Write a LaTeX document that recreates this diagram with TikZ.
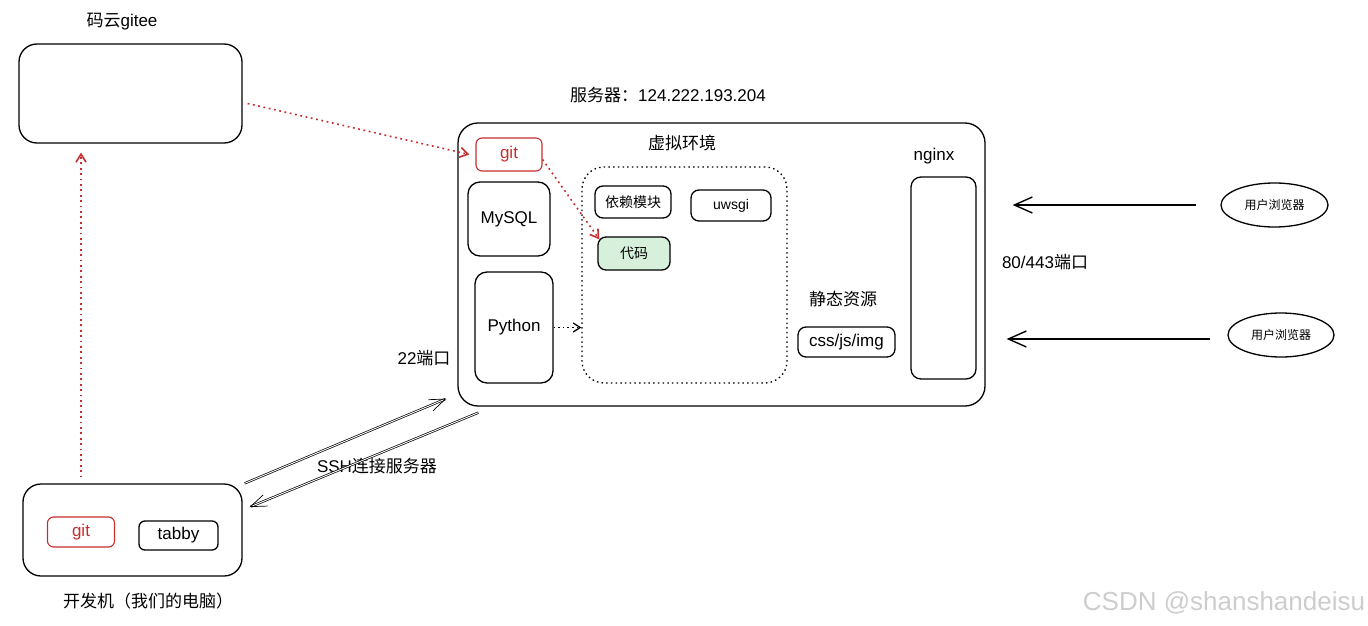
\documentclass[tikz,border=0pt]{standalone}
\usepackage{fontspec}
\setmainfont{Liberation Sans}
\newfontfamily\cjk{Noto Sans CJK SC}
\usetikzlibrary{arrows.meta,shapes.geometric}
\definecolor{gitred}{RGB}{200,45,45}
\definecolor{codegreen}{RGB}{214,240,219}
\definecolor{markgray}{RGB}{205,205,205}
\tikzset{
    boxbase/.style={
        rectangle,
        rounded corners=8pt,
        draw=black,
        line width=1.3pt,
        inner sep=0pt,
        align=center,
        font=\fontsize{17}{20}\selectfont
    },
    smallbox/.style={boxbase, font=\fontsize{14}{17}\selectfont},
    gitbox/.style={boxbase, draw=gitred, text=gitred, line width=1.1pt, rounded corners=6pt},
    codebox/.style={smallbox, fill=codegreen},
    bigbox/.style={boxbase, rounded corners=20pt},
    envbox/.style={boxbase, rounded corners=22pt, dash pattern=on 1.5pt off 3.2pt},
    browser/.style={ellipse, draw=black, line width=1.3pt, inner sep=0pt, font=\fontsize{12}{14}\selectfont},
    textlabel/.style={font=\fontsize{17}{20}\selectfont},
    line/.style={-{Straight Barb[length=18pt,width=16pt]}, line width=1.4pt},
    sshline/.style={-{Straight Barb[length=16pt,width=12pt]}, double, double distance=0.9pt, line width=0.7pt},
    gitline/.style={-{Straight Barb[length=8pt,width=10pt]}, draw=gitred, line width=1.6pt, dash pattern=on 1.8pt off 3.6pt},
    envline/.style={-{Straight Barb[length=7pt,width=9pt]}, line width=1.3pt, dash pattern=on 1.6pt off 3pt},
}
\begin{document}
\begin{tikzpicture}[x=1pt, y=-1pt]
    \useasboundingbox (0,0) rectangle (1368,626);

    % code hosting
    \node[textlabel] (giteelabel) at (122,22) {{\cjk 码云}gitee};
    \node[bigbox, rounded corners=18pt, minimum width=223pt, minimum height=99pt] (gitee) at (130.5,93.5) {};

    % server
    \node[textlabel] (serverlabel) at (668,95) {{\cjk 服务器：}124.222.193.204};
    \node[bigbox, minimum width=527pt, minimum height=283pt] (server) at (721.5,264.5) {};
    \node[gitbox, minimum width=66pt, minimum height=33pt] (sgit) at (509,154.5) {git};
    \node[boxbase, rounded corners=12pt, minimum width=82pt, minimum height=74pt] (mysql) at (509,219) {MySQL};
    \node[boxbase, rounded corners=12pt, minimum width=78pt, minimum height=111pt] (python) at (514,327.5) {Python};

    \node[textlabel] (envlabel) at (682,143) {\cjk 虚拟环境};
    \node[envbox, minimum width=205pt, minimum height=216pt] (venv) at (684.5,275) {};
    \node[smallbox, minimum width=76pt, minimum height=32pt] (deps) at (633,202) {\cjk 依赖模块};
    \node[smallbox, minimum width=80pt, minimum height=31pt] (uwsgi) at (731,205.5) {uwsgi};
    \node[codebox, minimum width=72pt, minimum height=33pt] (code) at (634,253.5) {\cjk 代码};

    \node[textlabel] (staticlabel) at (843,299) {\cjk 静态资源};
    \node[boxbase, minimum width=97pt, minimum height=30pt] (assets) at (846.5,342) {css/js/img};
    \node[textlabel] (nginxlabel) at (934,156) {nginx};
    \node[boxbase, rounded corners=10pt, minimum width=65pt, minimum height=202pt] (nginx) at (943.5,278) {};

    % ports
    \node[textlabel] (port80) at (1045,262) {80/443{\cjk 端口}};
    \node[textlabel] (port22) at (424,358) {22{\cjk 端口}};

    % users
    \node[browser, minimum width=107pt, minimum height=44pt] (browser1) at (1274.5,205) {\cjk 用户浏览器};
    \node[browser, minimum width=106pt, minimum height=44pt] (browser2) at (1281,335) {\cjk 用户浏览器};

    % developer machine
    \node[bigbox, rounded corners=18pt, minimum width=219pt, minimum height=92pt] (dev) at (132.5,530) {};
    \node[gitbox, minimum width=67pt, minimum height=30pt] (dgit) at (81,532) {git};
    \node[boxbase, rounded corners=6pt, minimum width=79pt, minimum height=29pt] (tabby) at (178.5,535.5) {tabby};
    \node[textlabel] (devlabel) at (148,601) {\cjk 开发机（我们的电脑）};

    \node[textlabel] (sshlabel) at (377,466) {SSH{\cjk 连接服务器}};
    \node[font=\fontsize{26}{30}\selectfont, text=markgray] (mark) at (1224,603) {CSDN @shanshandeisu};

    \draw[line] (browser1.west) -- (browser1.west -| nginx.east) [shorten <=24pt, shorten >=36pt];
    \draw[line] ([yshift=-4pt]browser2.west) -- ([yshift=-4pt]browser2.west -| nginx.east) [shorten <=17pt, shorten >=30pt];

    \draw[sshline] ([xshift=2pt]dev.north east) -- ([xshift=-11pt,yshift=8pt]server.south west);
    \draw[sshline] ([xshift=21pt,yshift=-6pt]server.south west) -- ([xshift=7pt,yshift=23pt]dev.east);

    \draw[gitline] (dgit |- dev.north) [shorten <=6pt] -- (dgit |- gitee.south) [shorten >=9pt];
    \draw[gitline] ([xshift=5pt,yshift=-10pt]gitee.east) -- ([xshift=-6pt]sgit.west);
    \draw[gitline] ([yshift=-5pt]sgit.east) -- ([xshift=2pt,yshift=-3pt]code.north west);
    \draw[envline] (python.east) -- (python.east -| venv.west);
\end{tikzpicture}
\end{document}
